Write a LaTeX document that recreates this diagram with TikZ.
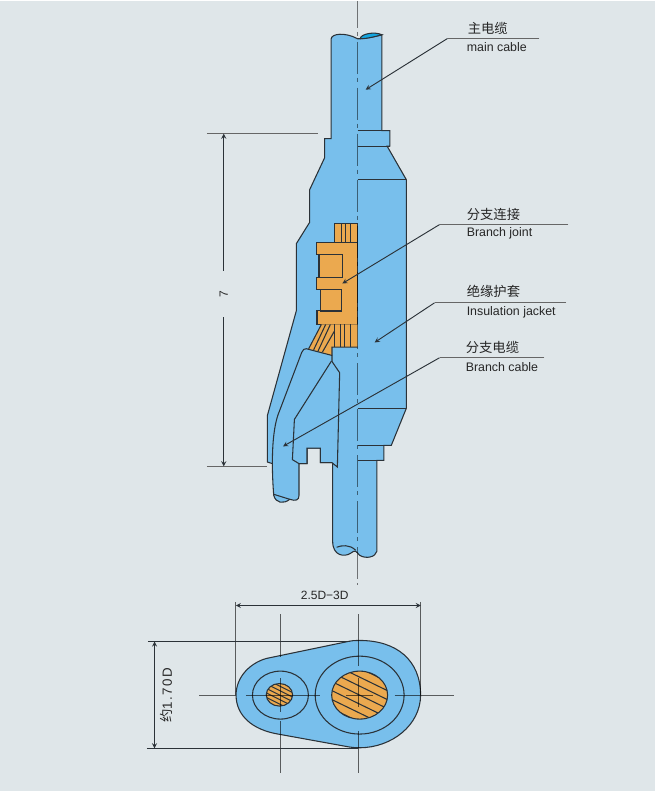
\documentclass[tikz,border=0pt]{standalone}
\usepackage{fontspec}
\setmainfont{Liberation Sans}
\newfontfamily\cjk{Noto Sans CJK SC}
\definecolor{pagebg}{HTML}{DFE6E9}
\definecolor{cableblue}{HTML}{78BFEC}
\definecolor{coreblue}{HTML}{12A5DF}
\definecolor{copper}{HTML}{EBA94F}
\definecolor{inkline}{HTML}{2B3238}
\tikzset{
	outline/.style={draw=inkline,line width=0.8pt,line join=miter},
	axisline/.style={black,draw opacity=0.5,line width=1.2pt,dash pattern=on 24pt off 3pt on 3pt off 4.5pt},
	centreline/.style={black,draw opacity=0.6,line width=0.9pt},
	dimline/.style={inkline,line width=0.7pt},
	leader/.style={inkline,line width=0.7pt},
	shelf/.style={draw=black!60,line width=0.9pt},
	cntext/.style={anchor=base west,inner sep=0pt,font=\cjk\fontsize{10}{10}\selectfont,text=black!85},
	entext/.style={anchor=base west,inner sep=0pt,font=\fontsize{9.3}{10}\selectfont,text=black!85},
}
\begin{document}
\begin{tikzpicture}[x=0.75pt,y=-0.75pt]
	\fill[pagebg] (0,0) rectangle (656,791);
	% cable and jacket
	\filldraw[fill=cableblue,outline] (331.5,38) .. controls (332,33) and (345,31) .. (358,38) .. controls (365,38) and (375,36) .. (382.3,34)
		-- (382.3,130) -- (390.3,130) -- (390.3,145.5) -- (387.5,145.5) -- (406.7,179) -- (406.7,408) -- (391.7,445) -- (384.3,445) -- (384.3,460) -- (377.3,460)
		-- (377.3,551) .. controls (376,557) and (366,559) .. (360,555) .. controls (356,551) and (356,549) .. (351,553) .. controls (345,557) and (333,556) .. (333,541)
		-- (333,462.3) -- (320.7,462.3) -- (320.7,447.7) -- (307.3,447.7) -- (307.3,463.3) -- (272.7,463.3) -- (267.7,461.7) -- (267.7,415) -- (296.7,310) -- (296.7,243) -- (310,221.7) -- (310,189) -- (325,157) -- (325,138) -- (331.5,138) -- cycle;
	\filldraw[fill=coreblue,outline] (360.5,38) .. controls (361,33) and (375,30.5) .. (382.3,34) .. controls (375,36) and (367,38) .. (360.5,38) -- cycle;
	\draw[outline] (358,130) -- (390.3,130) (358,145.5) -- (390.3,145.5) (358,179) -- (406.7,179);
	\draw[outline] (358,408) -- (406.7,408) (358,445) -- (391.7,445) (358,460) -- (384.3,460);
	\draw[outline] (337,547) .. controls (342,545) and (350,544) .. (356,550);
	% copper
	\filldraw[fill=copper,outline] (335.3,223.3) -- (358,223.3) -- (358,241.7) -- (335.3,241.7) -- cycle;
	\filldraw[fill=copper,outline] (316.7,241.7) -- (358,241.7) -- (358,324) -- (317.3,324) -- (317.3,310) -- (320.7,310) -- (320.7,289.3) -- (316.7,289.3) -- (316.7,277.3) -- (319.3,277.3) -- (319.3,253.7) -- (316.7,253.7) -- cycle;
	\draw[outline] (319.3,253.7) -- (342.7,253.7) -- (342.7,277.3) -- (319.3,277.3);
	\draw[outline] (320.7,289.3) -- (342.3,289.3) -- (342.3,310.5) -- (320.7,310.5);
	\fill[copper] (321.7,324) -- (358,324) -- (358,346.7) -- (332.3,346.7) -- (332.3,355) -- (309,348.3) -- cycle;
	\draw[outline] (321.7,324) -- (309,348.3) (332.3,355) -- (332.3,346.7) -- (358,346.7);
	\foreach \x in {341.7,346,350.7} \draw[outline] (\x,223.3) -- (\x,241.7);
	\foreach \x in {334.7,341,344.7,350.7} \draw[outline] (\x,324) -- (\x,346.7);
	\draw[outline] (326,324) -- (314,349.3) (330.7,324) -- (318.3,350.7) (334.7,330.7) -- (322.7,351.7);
	% branch cable
	\filldraw[fill=cableblue,outline] (306.7,348.3) -- (332.3,355) -- (332.3,361) -- (340,372.3) -- (337.7,466.7) -- (332.3,462.3) -- (320.7,462.3) -- (320.7,447.7) -- (307.3,447.7) -- (307.3,463.3) -- (299.3,463.3)
		-- (299.3,495) .. controls (299.5,500) and (296,501) .. (290,499) .. controls (284,504) and (276,503) .. (274,495)
		.. controls (272,470) and (271,430) .. (280,410) -- (302,352) .. controls (303,349) and (305,348) .. (306.7,348.3) -- cycle;
	\draw[outline] (299.3,463.3) -- (292.7,459.3) -- (294.7,419) -- (331.7,360.7);
	\draw[outline] (274,494) -- (290,499);
	% centre axis
	\coordinate (axistop) at (358,0);
	\coordinate (axisbot) at (358,585);
	\draw[axisline,dash phase=3.75pt] (axistop) -- (axisbot);
	% labels
	\node[cntext] (maincn) at (468,33) {主电缆};
	\node[entext] (mainen) at (467,51) {main cable};
	\node[cntext] (jointcn) at (467,219) {分支连接};
	\node[entext] (jointen) at (467,236) {Branch joint};
	\node[cntext] (jacketcn) at (467,296) {绝缘护套};
	\node[entext] (jacketen) at (467,315) {Insulation jacket};
	\node[cntext] (branchcn) at (466,352) {分支电缆};
	\node[entext] (branchen) at (466,371) {Branch cable};
	\coordinate (mainend) at (540,37.7);
	\coordinate (mainknee) at (448,37.7);
	\coordinate (maintip) at (366,89);
	\draw[shelf] (mainend) -- (mainknee);
	\draw[leader,-stealth] (mainknee) -- (maintip);
	\coordinate (jointend) at (569,224);
	\coordinate (jointknee) at (440,224);
	\coordinate (jointtip) at (342.7,283);
	\draw[shelf] (jointend) -- (jointknee);
	\draw[leader,-stealth] (jointknee) -- (jointtip);
	\coordinate (jacketend) at (566.6,302.3);
	\coordinate (jacketknee) at (435,302.3);
	\coordinate (jackettip) at (375,342);
	\draw[shelf] (jacketend) -- (jacketknee);
	\draw[leader,-stealth] (jacketknee) -- (jackettip);
	\coordinate (branchend) at (545,357.3);
	\coordinate (branchknee) at (440,357.3);
	\coordinate (branchtip) at (283.3,446);
	\draw[shelf] (branchend) -- (branchknee);
	\draw[leader,-stealth] (branchknee) -- (branchtip);
	% dimension 7
	\coordinate (lentopa) at (207,133);
	\coordinate (lentopb) at (318,133);
	\coordinate (lenbota) at (207,466);
	\coordinate (lenbotb) at (267,466);
	\coordinate (lenup) at (224,133);
	\coordinate (lendown) at (224,466);
	\draw[shelf] (lentopa) -- (lentopb);
	\draw[shelf] (lenbota) -- (lenbotb);
	\node[rotate=90,inner sep=0pt,font=\fontsize{9}{10}\selectfont,text=black!85] (lentext) at (224,294) {7};
	\coordinate (lengapa) at (224,270);
	\coordinate (lengapb) at (224,316.7);
	\draw[dimline,-stealth] (lengapa) -- (lenup);
	\draw[dimline,-stealth] (lengapb) -- (lendown);
	% cross section
	\filldraw[fill=cableblue,outline] (236.3,695) .. controls (236.3,677) and (250,663) .. (266.7,658.3) -- (350,641) .. controls (354,640.3) and (357,640.3) .. (360,640.3)
		.. controls (397,640.3) and (421,660) .. (421,695) .. controls (421,725) and (392,747.7) .. (360,747.7) .. controls (356,747.7) and (353,747.5) .. (350,747)
		-- (280,734.3) .. controls (252,730) and (236.3,715) .. (236.3,695) -- cycle;
	\draw[outline] (280.7,695) ellipse (28 and 24);
	\draw[outline] (360,695) ellipse (44.5 and 39);
	\filldraw[fill=copper,outline] (279.7,694.7) ellipse (13.2 and 11.3);
	\filldraw[fill=copper,outline] (360,695) ellipse (28 and 24);
	\begin{scope}
		\clip (279.7,694.7) ellipse (13.2 and 11.3);
		\foreach \y in {-27,-22.5,...,27} \draw[outline] (260,685+\y) -- (300,705+\y);
	\end{scope}
	\begin{scope}
		\clip (360,695) ellipse (28 and 24);
		\foreach \y in {-63,-54,...,63} \draw[outline] (325,678+\y) -- (395,712+\y);
	\end{scope}
	\draw[centreline] (199.3,695) -- (236.7,695) (246,695) -- (320.7,695) (346.7,695) -- (373.3,695) (395,695) -- (454,695);
	\draw[centreline] (280.7,614.3) -- (280.7,656.7) (280.7,677.7) -- (280.7,711.7) (280.7,721) -- (280.7,772.7);
	\draw[centreline] (359,614) -- (359,666) (359,677.7) -- (359,707.3) (359,730.7) -- (359,772.7);
	% dimensions of the section
	\coordinate (widea) at (236,605.3);
	\coordinate (wideb) at (421.3,605.3);
	\coordinate (highupper) at (154.7,641.3);
	\coordinate (highlower) at (154.7,748.3);
	\draw[centreline] (236,602) -- (236,695) (421.3,601.7) -- (421.3,695);
	\draw[dimline] (148,641.3) -- (350,641.3) (147,748.3) -- (358,748.3);
	\draw[dimline,stealth-stealth] (widea) -- (wideb);
	\draw[dimline,stealth-stealth] (highupper) -- (highlower);
	\node[inner sep=0pt,font=\fontsize{9}{10}\selectfont,text=black!85] (widetext) at (325,595.5) {2.5D−3D};
	\node[rotate=90,inner sep=0pt,font=\fontsize{10}{10}\selectfont\addfontfeature{LetterSpace=12},text=black!85] (hightext) at (167,695) {{\cjk 约}1.70D};
\end{tikzpicture}
\end{document}
